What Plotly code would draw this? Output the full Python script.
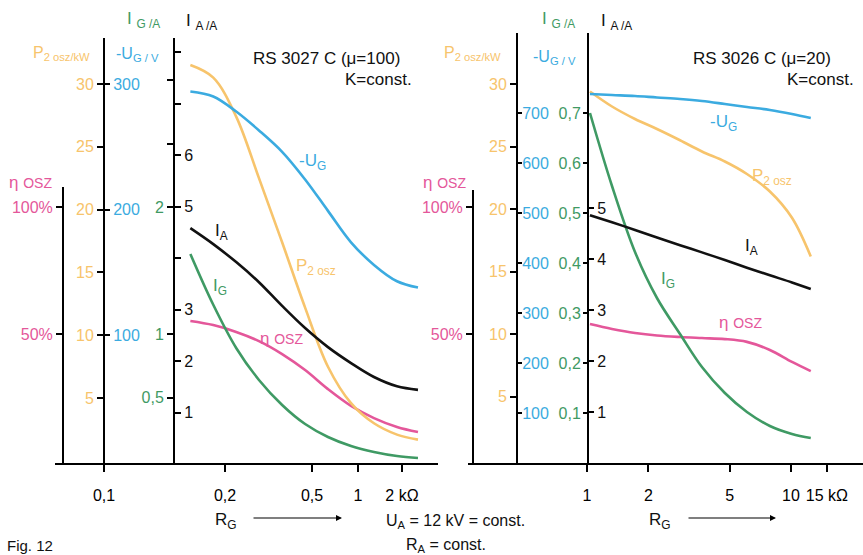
import numpy as np
import plotly.graph_objects as go

# ---------------- data ----------------
# Left panel: RS 3027 C (mu=100); R_G in kOhm at which the curves were read
L_RG = [0.164, 0.187, 0.225, 0.286, 0.365, 0.465, 0.636, 0.900, 1.286, 1.848, 2.573]
L_P2 = [31.5, 30.5, 27.4, 22.5, 17.4, 12.2, 7.5, 4.6, 3.0, 2.1, 1.7]                 # kW
L_UG = [294, 290, 278, 263, 246, 224, 199, 174, 156, 143, 138]                     # V
L_IA = [4.58, 4.27, 3.92, 3.53, 3.07, 2.64, 2.27, 1.96, 1.69, 1.51, 1.44]          # A
L_IG = [1.63, 1.23, 0.89, 0.638, 0.441, 0.291, 0.189, 0.118, 0.071, 0.039, 0.024]  # A
L_ETA = [55.1, 53.5, 50.8, 47.2, 42.1, 35.8, 28.3, 21.7, 16.9, 13.4, 11.4]         # %

# Right panel: RS 3026 C (mu=20)
R_RG = [1.034, 1.326, 1.719, 2.203, 2.857, 3.66, 4.74, 6.08, 7.88, 10.11, 12.5]
R_P2 = [29.4, 28.2, 27.2, 26.4, 25.5, 24.6, 23.8, 22.8, 21.4, 19.3, 16.2]
R_UG = [738, 736, 734, 731, 728, 724, 718, 712, 706, 698, 690]
R_IA = [4.86, 4.72, 4.57, 4.42, 4.27, 4.13, 3.98, 3.83, 3.68, 3.54, 3.41]
R_IG = [0.70, 0.554, 0.422, 0.33, 0.258, 0.192, 0.14, 0.102, 0.074, 0.058, 0.05]
R_ETA = [53.9, 52.0, 50.4, 49.4, 48.8, 48.4, 48.0, 46.9, 43.7, 39.0, 35.4]

# tick labels
L_X_TICKS = [0.1, 0.2, 0.5, 1, 2]
L_X_TEXT = ["0,1", "0,2", "0,5", "1", "2 kΩ"]
R_X_TICKS = [1, 2, 5, 10, 15]
R_X_TEXT = ["1", "2", "5", "10", "15 kΩ"]

# ---------------- layout helpers ----------------
W, H = 863, 555
BASE = 463
FONT = "Liberation Sans, Arial, sans-serif"
ORANGE = "#F7C46C"
BLUE = "#3BABE0"
GREEN = "#3F9A64"
PINK = "#E4579A"
BLACK = "#111111"

# The left R_G scale in the original is a hand-drawn, non-uniform log scale:
# positions of its printed ticks along the axis
L_SCALE_POS = [104, 225, 312, 358, 402]


def left_scale(r):
    lr = np.log10(np.asarray(r, float))
    lt = np.log10(L_X_TICKS)
    p = np.array(L_SCALE_POS, float)
    out = np.interp(lr, lt, p)
    hi = lr > lt[-1]
    out[hi] = p[-1] + (lr[hi] - lt[-1]) * (p[-1] - p[-2]) / (lt[-1] - lt[-2])
    lo = lr < lt[0]
    out[lo] = p[0] + (lr[lo] - lt[0]) * (p[1] - p[0]) / (lt[1] - lt[0])
    return out


def fx(x):
    return x / W


def fy(y):
    return 1 - y / H


def yaxis(pos, side, zero_px, ppu, top, tickvals, ticktext, color, showline=True,
          ticklen=6, standoff=0):
    return dict(
        domain=[fy(BASE), fy(top)], anchor="free", position=fx(pos), side=side,
        range=[(zero_px - BASE) / ppu, (zero_px - top) / ppu],
        tickmode="array", tickvals=tickvals, ticktext=ticktext,
        ticks="outside", ticklen=ticklen, tickwidth=1.5, tickcolor="black",
        tickfont=dict(color=color, size=16, family=FONT), ticklabelstandoff=standoff,
        showline=showline, linecolor="black", linewidth=2,
        showgrid=False, zeroline=False, fixedrange=True,
    )


fig = go.Figure()


def line(x, y, xa, ya, color, shape="spline"):
    fig.add_trace(go.Scatter(x=x, y=y, xaxis=xa, yaxis=ya, mode="lines",
                             line=dict(color=color, width=2.6, shape=shape, smoothing=1.0),
                             hoverinfo="skip", showlegend=False))


# left panel curves
LX = left_scale(L_RG)
line(LX, L_ETA, "x", "y", PINK)
line(LX, L_P2, "x", "y2", ORANGE)
line(LX, L_UG, "x", "y3", BLUE)
line(LX, L_IG, "x", "y4", GREEN)
line(LX, L_IA, "x", "y5", BLACK)
# right panel curves
line(R_RG, R_ETA, "x2", "y6", PINK)
line(R_RG, R_P2, "x2", "y7", ORANGE)
line(R_RG, R_UG, "x2", "y8", BLUE)
line(R_RG, R_IG, "x2", "y9", GREEN)
line(R_RG, R_IA, "x2", "y10", BLACK)

xcommon = dict(showgrid=False, zeroline=False, showline=True, linecolor="black", linewidth=2,
               ticks="outside", ticklen=7, tickwidth=1.5, tickcolor="black",
               tickfont=dict(color="black", size=16, family=FONT), fixedrange=True,
               ticklabelstandoff=10)

layout = dict(
    width=W, height=H, margin=dict(l=0, r=0, t=0, b=0),
    paper_bgcolor="white", plot_bgcolor="rgba(0,0,0,0)", showlegend=False,
    font=dict(family=FONT, size=16, color="black"),
    xaxis=dict(domain=[fx(55), fx(438)], anchor="y", range=[55, 438],
               tickmode="array", tickvals=L_SCALE_POS, ticktext=L_X_TEXT, **xcommon),
    xaxis2=dict(domain=[fx(468), 1.0], anchor="y6", type="log",
                range=[(468 - 587) / 204, (863 - 587) / 204],
                tickmode="array", tickvals=R_X_TICKS, ticktext=R_X_TEXT, **xcommon),
    # left panel y-axes
    yaxis=yaxis(63, "left", 461, 2.54, 187, [50, 100], ["50%", "100%"], PINK),
    yaxis2=yaxis(104, "left", 461, 12.57, 38, [5, 10, 15, 20, 25, 30],
                 ["5", "10", "15", "20", "25", "30"], ORANGE),
    yaxis3=yaxis(104, "right", 461, 1.257, 38, [100, 200, 300], ["100", "200", "300"], BLUE,
                 showline=False, ticklen=5),
    yaxis4=yaxis(174, "left", 461, 127, 38, [0.5, 1, 2, 2.5, 3], ["0,5", "1", "2", "", ""], GREEN),
    yaxis5=yaxis(174, "right", 464, 51.5, 38, [1, 2, 3, 4, 5, 6, 7, 8],
                 ["1", "2", "3", "", "5", "6", "", ""], BLACK, showline=False),
    # right panel y-axes
    yaxis6=yaxis(473, "left", 461, 2.54, 190, [50, 100], ["50%", "100%"], PINK),
    yaxis7=yaxis(517, "left", 459, 12.5, 33, [5, 10, 15, 20, 25, 30],
                 ["5", "10", "15", "20", "25", "30"], ORANGE),
    yaxis8=yaxis(517, "right", 463, 0.5, 33, [100, 200, 300, 400, 500, 600, 700],
                 ["100", "200", "300", "400", "500", "600", "700"], BLUE, showline=False,
                 ticklen=4, standoff=-3),
    yaxis9=yaxis(588, "left", 463, 500, 33, [0.1, 0.2, 0.3, 0.4, 0.5, 0.6, 0.7],
                 ["0,1", "0,2", "0,3", "0,4", "0,5", "0,6", "0,7"], GREEN, ticklen=4, standoff=-1),
    yaxis10=yaxis(588, "right", 463, 51, 33, [1, 2, 3, 4, 5], ["1", "2", "3", "4", "5"], BLACK,
                  showline=False, ticklen=5),
)
fig.update_layout(**layout)

ann = []


def text(x, y, s, color="black", size=16, xanchor="center"):
    ann.append(dict(x=fx(x), y=fy(y), xref="paper", yref="paper", text=s, showarrow=False,
                    xanchor=xanchor, yanchor="middle",
                    font=dict(color=color, size=size, family=FONT)))


ETA = "η <span style='font-size:14px'>OSZ</span>"
# axis titles, left
text(143, 20, "I <sub>G /A</sub>", GREEN, 17)
text(201, 22, "I <sub>A /A</sub>", BLACK, 17)
text(61, 53, "P<sub>2 osz/kW</sub>", ORANGE, 16)
text(137, 55, "-U<sub>G / V</sub>", BLUE, 16)
text(30, 183, ETA, PINK, 17)
# axis titles, right
text(558, 20, "I <sub>G /A</sub>", GREEN, 17)
text(616, 22, "I <sub>A /A</sub>", BLACK, 17)
text(472, 53, "P<sub>2 osz/kW</sub>", ORANGE, 16)
text(554, 57, "-U<sub>G / V</sub>", BLUE, 16)
text(444, 183, ETA, PINK, 17)
# tube titles
text(326, 58, "RS 3027 C (μ=100)", BLACK, 17)
text(378, 80, "K=const.", BLACK, 17)
text(762, 58, "RS 3026 C (μ=20)", BLACK, 17)
text(820, 80, "K=const.", BLACK, 17)
# curve labels, left
text(312, 162, "-U<sub>G</sub>", BLUE, 17)
text(221, 232, "I<sub>A</sub>", BLACK, 17)
text(316, 267, "P<sub>2 osz</sub>", ORANGE, 17)
text(220, 287, "I<sub>G</sub>", GREEN, 17)
text(281, 338, ETA, PINK, 17)
# curve labels, right
text(723, 123, "-U<sub>G</sub>", BLUE, 17)
text(772, 177, "P<sub>2 osz</sub>", ORANGE, 17)
text(751, 247, "I<sub>A</sub>", BLACK, 17)
text(668, 280, "I<sub>G</sub>", GREEN, 17)
text(740, 322, ETA, PINK, 17)
# bottom texts
text(226, 521, "R<sub>G</sub>", BLACK, 17)
text(660, 521, "R<sub>G</sub>", BLACK, 17)
text(456, 521, "U<sub>A</sub> = 12 kV = const.", BLACK, 16)
text(446, 545, "R<sub>A</sub> = const.", BLACK, 16)
text(5, 545, "Fig. 12", BLACK, 15, xanchor="left")

# arrows
for head, length in ((342, 90), (776, 89)):
    ann.append(dict(x=fx(head), y=fy(518), xref="paper", yref="paper", text="",
                    showarrow=True, ax=-length, ay=0, arrowhead=2, arrowsize=1,
                    arrowwidth=1.2, arrowcolor="black"))

fig.update_layout(annotations=ann)
fig.write_html("out.html", config={"displayModeBar": False},
               post_script="document.body.style.margin='0px';document.body.style.padding='0px';")
